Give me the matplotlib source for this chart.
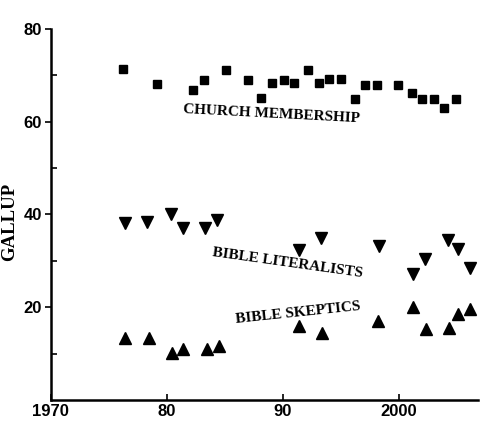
import matplotlib
matplotlib.use("Agg")
import matplotlib.pyplot as plt
from matplotlib.ticker import FixedLocator

church_years = [1976.2, 1979.2, 1982.3, 1983.2, 1985.1, 1987.0, 1988.1, 1989.1, 1990.1,
                1991.0, 1992.2, 1993.1, 1994.0, 1995.0, 1996.2, 1997.1, 1998.1, 1999.9,
                2001.1, 2002.0, 2003.0, 2003.9, 2004.9]
church_vals = [71.3, 68.1, 66.8, 69.0, 71.2, 69.0, 65.2, 68.4, 69.1,
               68.4, 71.2, 68.3, 69.2, 69.2, 64.9, 67.9, 67.9, 67.9,
               66.2, 65.0, 65.0, 63.0, 65.0]

lit_years = [1976.4, 1978.3, 1980.4, 1981.4, 1983.3, 1984.3, 1991.4, 1993.3, 1998.3,
             2001.2, 2002.2, 2004.2, 2005.1, 2006.1]
lit_vals = [38.1, 38.3, 40.0, 37.0, 37.0, 38.8, 32.3, 35.0, 33.2,
            27.2, 30.4, 34.5, 32.5, 28.5]

skep_years = [1976.4, 1978.5, 1980.5, 1981.4, 1983.5, 1984.5, 1991.4, 1993.4, 1998.2,
              2001.2, 2002.3, 2004.3, 2005.1, 2006.1]
skep_vals = [13.3, 13.4, 10.2, 10.9, 10.9, 11.7, 16.0, 14.4, 17.1,
             20.1, 15.3, 15.5, 18.5, 19.6]

xtick_vals = [1970, 1980, 1990, 2000]
xtick_labels = ["1970", "80", "90", "2000"]
ytick_vals = [20, 40, 60, 80]
ytick_labels = ["20", "40", "60", "80"]

fig = plt.figure(figsize=(5.0, 4.38), dpi=100)
ax = fig.add_axes([0.101, 0.0868, 0.855, 0.847])

ax.plot(church_years, church_vals, linestyle="none", marker="s", markersize=5.8, color="black")
ax.plot(lit_years, lit_vals, linestyle="none", marker="v", markersize=8, color="black")
ax.plot(skep_years, skep_vals, linestyle="none", marker="^", markersize=8, color="black")

ax.set_xlim(1970, 2006.8)
ax.set_ylim(0, 80)

for s in ["top", "right"]:
    ax.spines[s].set_visible(False)
for s in ["left", "bottom"]:
    ax.spines[s].set_linewidth(1.8)

ax.set_xticks(xtick_vals)
ax.set_xticklabels(xtick_labels)
ax.set_yticks(ytick_vals)
ax.set_yticklabels(ytick_labels)
ax.yaxis.set_minor_locator(FixedLocator([10, 30, 50, 70]))
ax.tick_params(axis="x", direction="in", length=4, width=1.2, pad=3)
ax.tick_params(axis="y", which="major", direction="out", length=4, width=1.2, pad=2)
ax.tick_params(axis="y", which="minor", direction="in", length=4, width=1.2)
for lab in ax.get_xticklabels() + ax.get_yticklabels():
    lab.set_fontfamily("Liberation Sans")
    lab.set_fontweight("bold")
    lab.set_fontsize(12)

ax.set_ylabel("GALLUP", fontfamily="Liberation Serif", fontweight="bold", fontsize=13.5)
ax.yaxis.set_label_coords(-0.075, 0.48)

tkw = dict(fontfamily="Liberation Serif", fontweight="bold", fontsize=11,
           ha="center", va="center", rotation_mode="anchor")
ax.text(1989.0, 61.7, "CHURCH MEMBERSHIP", rotation=-3, **tkw)
ax.text(1990.4, 29.5, "BIBLE LITERALISTS", rotation=-8, **tkw)
ax.text(1991.3, 18.8, "BIBLE SKEPTICS", rotation=6, **tkw)

fig.savefig("out.png", dpi=100, facecolor="white")
